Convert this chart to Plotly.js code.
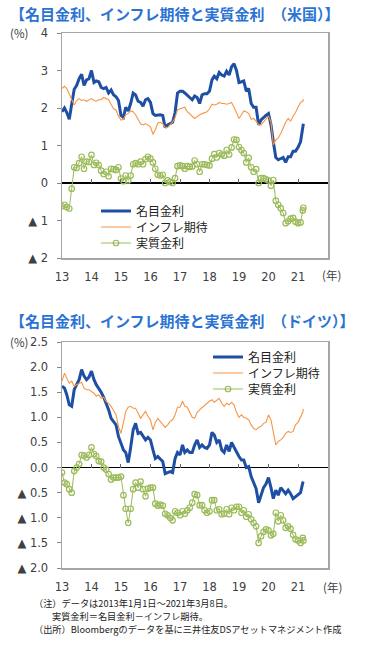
<!DOCTYPE html>
<html><head><meta charset="utf-8">
<script src="https://cdn.plot.ly/plotly-3.0.1.min.js"></script>
<style>html,body{margin:0;padding:0;background:#fff;}#chart{width:365px;height:650px;}</style>
</head><body><div id="chart"></div>
<script>
// Monthly observations (1st of each month, Jan 2013 – Mar 2021) plus the last day 2021-03-08
const usNominal = [
 1.90,2.00,1.88,1.70,2.10,2.50,2.60,2.78,2.90,2.60,2.75,2.78,
 3.00,2.68,2.72,2.70,2.55,2.52,2.55,2.40,2.48,2.35,2.30,2.20,
 1.80,1.75,2.02,1.92,2.12,2.40,2.35,2.18,2.15,2.05,2.22,2.25,
 2.15,1.85,1.80,1.82,1.82,1.80,1.48,1.55,1.58,1.62,1.88,2.40,
 2.45,2.45,2.40,2.35,2.28,2.22,2.32,2.28,2.12,2.35,2.38,2.38,
 2.45,2.75,2.85,2.78,2.95,2.88,2.85,2.98,2.88,3.10,3.18,3.00,
 2.68,2.70,2.72,2.45,2.52,2.12,2.02,2.02,1.55,1.68,1.75,1.80,
 1.85,1.55,1.10,0.68,0.62,0.65,0.68,0.55,0.70,0.70,0.85,0.85,
 0.95,1.10,1.45,1.58];
const usInflation = [
 2.52,2.58,2.52,2.38,2.25,2.08,2.20,2.25,2.20,2.22,2.18,2.22,
 2.25,2.20,2.18,2.22,2.22,2.28,2.25,2.22,2.10,1.98,1.95,1.78,
 1.68,1.70,1.82,1.85,1.92,1.90,1.82,1.68,1.58,1.55,1.58,1.55,
 1.50,1.30,1.42,1.60,1.62,1.58,1.48,1.48,1.55,1.62,1.75,1.95,
 1.98,2.00,2.02,1.90,1.85,1.78,1.72,1.78,1.82,1.85,1.88,1.90,
 1.98,2.10,2.08,2.10,2.15,2.12,2.12,2.10,2.12,2.15,2.02,1.85,
 1.72,1.82,1.92,1.90,1.85,1.70,1.72,1.65,1.55,1.55,1.62,1.70,
 1.78,1.62,1.02,1.15,1.20,1.32,1.48,1.62,1.72,1.65,1.78,1.88,
 2.02,2.15,2.18,2.24];
const usReal = [
 -0.62,-0.58,-0.64,-0.68,-0.15,0.42,0.40,0.53,0.70,0.38,0.57,0.56,
 0.75,0.48,0.54,0.48,0.33,0.24,0.30,0.18,0.38,0.37,0.35,0.42,
 0.12,0.05,0.20,0.07,0.20,0.50,0.53,0.50,0.57,0.50,0.64,0.70,
 0.65,0.55,0.38,0.22,0.20,0.22,0.00,0.07,0.03,0.00,0.13,0.45,
 0.47,0.45,0.38,0.45,0.43,0.44,0.60,0.50,0.30,0.50,0.50,0.48,
 0.47,0.65,0.77,0.68,0.80,0.76,0.73,0.88,0.76,0.95,1.16,1.15,
 0.96,0.88,0.80,0.55,0.67,0.42,0.30,0.37,0.00,0.13,0.13,0.10,
 0.07,-0.07,0.08,-0.47,-0.58,-0.67,-0.80,-1.07,-1.02,-0.95,-0.93,-1.03,
 -1.07,-1.05,-0.73,-0.66];
const deNominal = [
 1.62,1.58,1.45,1.25,1.22,1.55,1.65,1.75,1.95,1.82,1.75,1.80,
 1.92,1.75,1.65,1.58,1.50,1.40,1.28,1.15,0.98,0.92,0.85,0.62,
 0.50,0.35,0.30,0.10,0.40,0.75,0.88,0.68,0.70,0.62,0.55,0.60,
 0.55,0.35,0.18,0.22,0.18,0.12,-0.12,-0.10,-0.08,-0.10,0.18,0.30,
 0.25,0.45,0.30,0.35,0.30,0.30,0.45,0.55,0.40,0.45,0.40,0.38,
 0.45,0.70,0.65,0.50,0.55,0.35,0.30,0.45,0.32,0.50,0.40,0.32,
 0.22,0.15,0.15,0.00,0.02,-0.18,-0.32,-0.42,-0.70,-0.55,-0.40,-0.33,
 -0.20,-0.40,-0.62,-0.45,-0.55,-0.40,-0.45,-0.52,-0.45,-0.52,-0.62,-0.58,
 -0.55,-0.50,-0.30,-0.28];
const deInflation = [
 1.72,1.88,1.78,1.68,1.72,1.62,1.65,1.68,1.70,1.58,1.55,1.55,
 1.52,1.48,1.42,1.45,1.38,1.40,1.32,1.28,1.22,1.12,1.05,0.82,
 0.68,0.90,1.12,1.20,1.22,1.18,1.18,1.08,0.98,1.05,1.12,1.02,
 0.95,0.75,0.90,0.98,0.92,0.88,0.80,0.85,0.92,0.95,1.05,1.20,
 1.20,1.32,1.22,1.20,1.10,1.00,0.98,1.10,1.15,1.20,1.25,1.28,
 1.32,1.35,1.30,1.35,1.38,1.28,1.22,1.28,1.25,1.30,1.25,1.10,
 1.00,1.05,1.00,0.98,0.95,0.85,0.78,0.75,0.80,0.82,0.88,0.90,
 1.05,0.95,0.70,0.45,0.52,0.55,0.60,0.68,0.72,0.70,0.72,0.85,
 0.90,1.00,1.10,1.17];
const deReal = [
 -0.10,-0.30,-0.33,-0.43,-0.50,-0.07,0.00,0.07,0.25,0.24,0.20,0.25,
 0.40,0.27,0.23,0.13,0.12,0.00,-0.04,-0.13,-0.24,-0.20,-0.20,-0.20,
 -0.18,-0.55,-0.82,-1.10,-0.82,-0.43,-0.30,-0.40,-0.28,-0.43,-0.57,-0.42,
 -0.40,-0.40,-0.72,-0.76,-0.74,-0.76,-0.92,-0.95,-1.00,-1.05,-0.87,-0.90,
 -0.95,-0.87,-0.92,-0.85,-0.80,-0.70,-0.53,-0.55,-0.75,-0.75,-0.85,-0.90,
 -0.87,-0.65,-0.65,-0.85,-0.83,-0.93,-0.92,-0.83,-0.93,-0.80,-0.85,-0.78,
 -0.78,-0.90,-0.85,-0.98,-0.93,-1.03,-1.10,-1.17,-1.50,-1.37,-1.28,-1.23,
 -1.25,-1.35,-1.32,-0.90,-1.07,-0.95,-1.05,-1.20,-1.17,-1.22,-1.34,-1.43,
 -1.45,-1.50,-1.40,-1.45];

const seriesNames = ['名目金利','インフレ期待','実質金利'];
const yearTicks = ['2013','2014','2015','2016','2017','2018','2019','2020','2021'];
const yearLabels = ['13','14','15','16','17','18','19','20','21'];
const usTickVals = [-2,-1,0,1,2,3,4];
const usTickText = ['▲ 2','▲ 1','0','1','2','3','4'];
const deTickVals = [-2,-1.5,-1,-0.5,0,0.5,1,1.5,2,2.5];
const deTickText = ['▲ 2.0','▲ 1.5','▲ 1.0','▲ 0.5','0.0','0.5','1.0','1.5','2.0','2.5'];
const titleUS = '【名目金利、インフレ期待と実質金利　（米国）】';
const titleDE = '【名目金利、インフレ期待と実質金利　（ドイツ）】';
const notes = ['（注）データは2013年1月1日～2021年3月8日。',
               '実質金利＝名目金利－インフレ期待。',
               '（出所）Bloombergのデータを基に三井住友DSアセットマネジメント作成'];

// dates: first day of each month + final observation
const dates = [];
for (let y = 2013; y <= 2021; y++) {
  for (let m = 1; m <= 12; m++) {
    if (y === 2021 && m > 3) break;
    dates.push(y + '-' + String(m).padStart(2,'0') + '-01');
  }
}
dates.push('2021-03-08');
const yearDates = yearTicks.map(y => y + '-01-01');

const W = 365, H = 650;
const px = v => v / W, py = v => 1 - v / H;
const xDom = [px(62), px(328)];
const usDom = [py(258), py(33)];
const deDom = [py(568), py(342)];
const xRange = ['2013-01-01', '2022-01-07'];

const cBlue = '#1F4FA3', cOrange = '#F79646', cGreen = '#9BBB59';
const jp = '"Noto Sans CJK JP", sans-serif';
const num = '"DejaVu Sans", "Noto Sans CJK JP", sans-serif';

function mk(x, y, which, xa, ya, legend) {
  const base = {x: x, y: y, xaxis: xa, yaxis: ya, name: seriesNames[which], legend: legend, showlegend: true, hoverinfo: 'skip'};
  if (which === 0) return Object.assign(base, {mode: 'lines', line: {color: cBlue, width: 3}});
  if (which === 1) return Object.assign(base, {mode: 'lines', line: {color: cOrange, width: 1.1}});
  return Object.assign(base, {mode: 'lines+markers', line: {color: cGreen, width: 1},
    marker: {symbol: 'circle-open', size: 5.5, color: cGreen, line: {width: 1.2, color: cGreen}}});
}

const data = [
  mk(dates, usNominal, 0, 'x', 'y', 'legend'),
  mk(dates, usInflation, 1, 'x', 'y', 'legend2'),
  mk(dates, usReal, 2, 'x', 'y', 'legend3'),
  {x: [], y: [], xaxis: 'x2', yaxis: 'y', showlegend: false, mode: 'lines'},
  mk(dates, deNominal, 0, 'x3', 'y3', 'legend4'),
  mk(dates, deInflation, 1, 'x3', 'y3', 'legend5'),
  mk(dates, deReal, 2, 'x3', 'y3', 'legend6'),
  {x: [], y: [], xaxis: 'x4', yaxis: 'y3', showlegend: false, mode: 'lines'}
];

function xAxis(anchor) {
  return {domain: xDom, range: xRange, type: 'date', anchor: anchor,
    tickvals: yearDates, ticktext: yearLabels, ticks: '', showgrid: false, zeroline: false,
    showline: true, mirror: true, linecolor: '#a6a6a6', linewidth: 1.5,
    tickfont: {family: num, size: 11.5, color: '#404040'}, ticklabelstandoff: 8};
}
function zeroAxis(over, dom, yr) {
  return {overlaying: over, anchor: 'free', position: dom[0] + (dom[1] - dom[0]) * (0 - yr[0]) / (yr[1] - yr[0]),
    range: xRange, type: 'date', tickvals: yearDates.slice(1), ticks: 'inside', ticklen: 4,
    tickcolor: '#666', tickwidth: 1, showticklabels: false, showline: false, showgrid: false, zeroline: false};
}
function yAxis(dom, range, vals, text, anchor) {
  return {domain: dom, range: range, anchor: anchor, tickvals: vals, ticktext: text,
    ticks: 'outside', ticklen: 4, tickcolor: '#888', showgrid: false,
    zeroline: true, zerolinecolor: '#000', zerolinewidth: 1.5,
    showline: true, mirror: true, linecolor: '#a6a6a6', linewidth: 1.5,
    tickfont: {family: num, size: 11.5, color: '#404040'}, ticklabelstandoff: 6};
}
function leg(xp, yp) {
  return {x: px(xp), y: py(yp), xanchor: 'left', yanchor: 'middle', bgcolor: 'rgba(0,0,0,0)',
    borderwidth: 0, itemwidth: 30, font: {family: jp, size: 12, color: '#222'}};
}
function ann(text, xp, yp, size, color, anchor, bold) {
  return {text: bold ? '<b>' + text + '</b>' : text, x: px(xp), y: py(yp), xref: 'paper', yref: 'paper',
    xanchor: anchor || 'left', yanchor: 'middle', showarrow: false, align: 'left',
    font: {family: jp, size: size, color: color}};
}

const usY = [-2, 4], deY = [-2, 2.5];
const layout = {
  width: W, height: H, margin: {l: 0, r: 0, t: 0, b: 0}, showlegend: true,
  paper_bgcolor: '#fff', plot_bgcolor: '#fff', hovermode: false,
  xaxis: xAxis('y'),
  yaxis: yAxis(usDom, usY, usTickVals, usTickText, 'x'),
  xaxis2: zeroAxis('x', usDom, usY),
  xaxis3: xAxis('y3'),
  yaxis3: yAxis(deDom, deY, deTickVals, deTickText, 'x3'),
  xaxis4: zeroAxis('x3', deDom, deY),
  legend: leg(96, 211), legend2: leg(96, 227), legend3: leg(96, 243),
  legend4: leg(208, 357), legend5: leg(208, 373), legend6: leg(208, 389),
  annotations: [
    ann(titleUS, 8, 14, 15, '#2B73D3', 'left', true),
    ann(titleDE, 8, 320, 15, '#2B73D3', 'left', true),
    ann('(%)', 8, 33, 11.5, '#404040'),
    ann('(%)', 8, 342, 11.5, '#404040'),
    ann('(年)', 331, 275, 11.5, '#404040', 'center'),
    ann('(年)', 332, 587, 11.5, '#404040', 'center'),
    ann(notes[0], 32, 603, 9.2, '#222'),
    ann(notes[1], 50, 616, 9.2, '#222'),
    ann(notes[2], 32, 629, 9.2, '#222')
  ]
};

Plotly.newPlot('chart', data, layout, {staticPlot: true, displayModeBar: false});
</script></body></html>
